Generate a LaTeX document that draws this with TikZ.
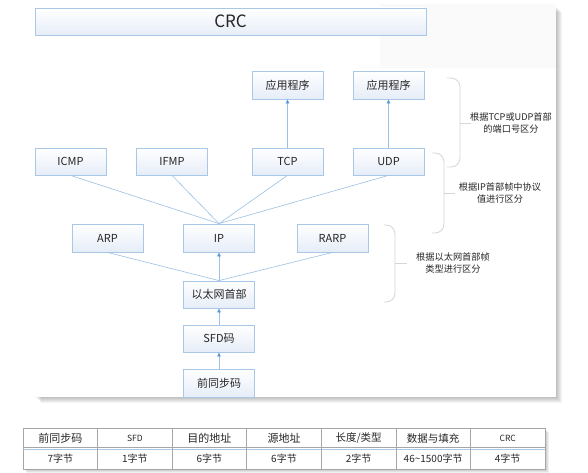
\documentclass[tikz,border=0pt]{standalone}
\usepackage{fontspec}
\setmainfont{Noto Sans CJK SC}
\usetikzlibrary{arrows.meta}
\definecolor{boxline}{HTML}{A9C8E8}
\definecolor{boxfill}{HTML}{E6EDF8}
\definecolor{connc}{HTML}{9CC0E6}
\definecolor{tipc}{HTML}{5B9BD5}
\definecolor{bracec}{HTML}{D6D6D6}
\definecolor{gridc}{HTML}{A6A6A6}
\definecolor{txt}{HTML}{262626}
\begin{document}
\begin{tikzpicture}[x=1pt,y=-1pt,
  box/.style={draw=boxline, line width=0.8pt, top color=white, bottom color=boxfill,
    minimum width=71pt, minimum height=28pt, inner sep=0pt, text=txt,
    font=\fontsize{11}{13}\selectfont},
  conn/.style={draw=connc, line width=0.6pt},
  arr/.style={draw=connc, line width=0.7pt, -{Triangle[length=4pt,width=3.5pt,fill=tipc,color=tipc]}},
  bracel/.style={draw=bracec, line width=0.8pt, rounded corners=9pt},
  note/.style={align=center, text=txt, font=\fontsize{9.2}{12}\selectfont, inner sep=0pt},
  cell/.style={text=txt, inner sep=0pt, anchor=center}]
\useasboundingbox (0,0) rectangle (588,473);
\fill[white] (0,0) rectangle (588,473);
% panel shadow
\foreach \i in {1,...,6}
  \fill[black, opacity=0.045] (35+\i,6+\i) rectangle (556+\i,397+\i);
\fill[white] (35,4) rectangle (556,397);
\fill[black!2] (380,4) rectangle (556,68);
% title
\node[box, minimum width=391pt, minimum height=27pt, font=\fontsize{17}{19}\selectfont] (crc) at (230.5,21.5) {CRC};
% boxes
\node[box] (app1) at (287.5,85) {应用程序};
\node[box] (app2) at (388.5,85) {应用程序};
\node[box, minimum height=27pt] (icmp) at (70.5,161.5) {ICMP};
\node[box, minimum height=27pt] (ifmp) at (172,161.5) {IFMP};
\node[box, minimum height=27pt] (tcp) at (287.5,161.5) {TCP};
\node[box, minimum height=27pt] (udp) at (388.5,161.5) {UDP};
\node[box] (arp) at (107.5,238) {ARP};
\node[box] (ip) at (219,238) {IP};
\node[box] (rarp) at (332.5,238) {RARP};
\node[box, minimum height=27pt] (eth) at (219,294.5) {以太网首部};
\node[box, minimum height=27pt] (sfd) at (219,338.5) {SFD码};
\node[box] (pre) at (219,383) {前同步码};
% connectors
\draw[conn] (icmp.south) -- (ip.north);
\draw[conn] (ifmp.south) -- (ip.north);
\draw[conn] (tcp.south) -- (ip.north);
\draw[conn] (udp.south) -- (ip.north);
\draw[conn] (arp.south) -- (eth.north);
\draw[conn] (rarp.south) -- (eth.north);
\draw[arr] (tcp.north) -- (app1.south);
\draw[arr] (udp.north) -- (app2.south);
\draw[arr] (eth.north) -- (ip.south);
\draw[arr] (sfd.north) -- (eth.south);
\draw[arr] (pre.north) -- (sfd.south);
% braces
\draw[bracel] (447,78) -- (460,78) -- (460,167) -- (447,167);
\draw[bracec, line width=0.8pt] (460,123) -- (471,123);
\node[note] (n1) at (511,123) {根据TCP或UDP首部\\的端口号区分};
\draw[bracel] (432,153) -- (444,153) -- (444,233) -- (432,233);
\draw[bracec, line width=0.8pt] (444,193) -- (455,193);
\node[note] (n2) at (500,193) {根据IP首部帧中协议\\值进行区分};
\draw[bracel] (384,225) -- (395,225) -- (395,302) -- (384,302);
\draw[bracec, line width=0.8pt] (395,263) -- (407,263);
\node[note] (n3) at (453,263) {根据以太网首部帧\\类型进行区分};
% table
\foreach \i in {1,...,4}
  \fill[black, opacity=0.06] (23+\i,428+\i) rectangle (545+\i,469+\i);
\fill[white] (23,428) rectangle (545,469);
\draw[gridc, line width=0.7pt] (23,428) rectangle (545,469);
\draw[gridc, line width=0.6pt] (23,447.5) -- (545,447.5);
\draw[boxline, line width=0.8pt] (23,449) -- (545,449);
\foreach \k in {1,...,6}
  \draw[gridc, line width=0.6pt] ({23+\k*74.571},428) -- ({23+\k*74.571},469);
\foreach \t [count=\k] in {{\fontsize{11}{12}\selectfont 前同步码},{\fontsize{8.5}{10}\selectfont SFD},{\fontsize{11}{12}\selectfont 目的地址},{\fontsize{11}{12}\selectfont 源地址},{\fontsize{10.5}{12}\selectfont 长度/类型},{\fontsize{10.5}{12}\selectfont 数据与填充},{\fontsize{8.5}{10}\selectfont CRC}}
  \node[cell] (h\k) at ({23+(\k-0.5)*74.571},438) {\t};
\foreach \t [count=\k] in {7字节,1字节,6字节,6字节,2字节,46\textasciitilde1500字节,4字节}
  \node[cell, font=\fontsize{10}{12}\selectfont] (r\k) at ({23+(\k-0.5)*74.571},459) {\t};
\end{tikzpicture}
\end{document}
